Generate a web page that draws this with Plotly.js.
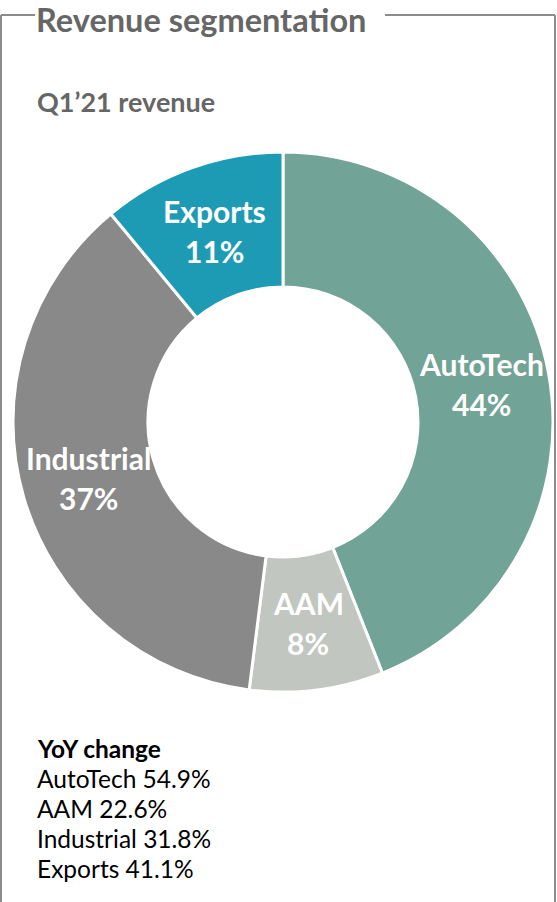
<!DOCTYPE html>
<html>
<head>
<meta charset="utf-8">
<script src="https://cdn.plot.ly/plotly-3.0.1.min.js"></script>
<style>html,body{margin:0;padding:0;background:#fff;}#chart{width:557px;height:902px;}</style>
</head>
<body>
<div id="chart"></div>
<script>
// Data
const segments = ["AutoTech", "AAM", "Industrial", "Exports"];
const shares = [44, 8, 37, 11];
const segColors = ["#72a397", "#c2c6c0", "#898989", "#1e9bb4"];
const yoySegments = ["AutoTech", "AAM", "Industrial", "Exports"];
const yoyChange = [54.9, 22.6, 31.8, 41.1];

const W = 557, H = 902;
const px = v => v / W;
const py = v => 1 - v / H;
const FONT = "Lato, 'Open Sans', sans-serif";

// pie geometry (pixels)
const CX = 283, CY = 422, R = 270, HOLE = 0.5;

const trace = {
  type: "pie",
  labels: segments,
  values: shares,
  sort: false,
  direction: "clockwise",
  rotation: 0,
  hole: HOLE,
  marker: { colors: segColors, line: { color: "#ffffff", width: 3 } },
  textinfo: "none",
  domain: { x: [px(CX - R), px(CX + R)], y: [py(CY + R), py(CY - R)] },
  showlegend: false,
  hoverinfo: "label+percent"
};

const annotations = [
  { text: "<b>Revenue segmentation</b>", x: px(35), y: py(19.5), xref: "paper", yref: "paper",
    xanchor: "left", yanchor: "middle", showarrow: false, borderpad: 0,
    font: { family: FONT, size: 32.5, color: "#666666" }, bgcolor: "#ffffff" },
  { text: "<b>Q1’21 revenue</b>", x: px(35), y: py(102), xref: "paper", yref: "paper",
    xanchor: "left", yanchor: "middle", showarrow: false,
    font: { family: FONT, size: 27, color: "#666666" } },
  { text: "<b>YoY change</b>", x: px(35), y: py(748), xref: "paper", yref: "paper",
    xanchor: "left", yanchor: "middle", showarrow: false,
    font: { family: FONT, size: 24.5, color: "#000000" } }
];
yoySegments.forEach((s, i) => {
  annotations.push({
    text: s + " " + yoyChange[i].toFixed(1) + "%",
    x: px(35), y: py(778 + 30 * i), xref: "paper", yref: "paper",
    xanchor: "left", yanchor: "middle", showarrow: false,
    font: { family: FONT, size: 24.5, color: "#000000" }
  });
});

// slice labels placed at the middle of each ring segment, derived from the shares
const total = shares.reduce((a, b) => a + b, 0);
const rMid = R * (1 + HOLE) / 2;
let cum = 0;
segments.forEach((s, i) => {
  const frac = shares[i] / total;
  const ang = (cum + frac / 2) * 2 * Math.PI; // clockwise from 12 o'clock
  cum += frac;
  const x = CX + rMid * Math.sin(ang);
  const y = CY - rMid * Math.cos(ang);
  const pct = Math.round(frac * 100) + "%";
  const f = { family: FONT, size: 30, color: "#ffffff", weight: "bold" };
  annotations.push({ text: "<b>" + s + "</b>", x: px(x), y: py(y - 20), xref: "paper", yref: "paper",
    xanchor: "center", yanchor: "middle", showarrow: false, font: f });
  annotations.push({ text: "<b>" + pct + "</b>", x: px(x), y: py(y + 20), xref: "paper", yref: "paper",
    xanchor: "center", yanchor: "middle", showarrow: false, font: f });
});

const borderLine = { color: "#8c8c8c", width: 2 };
const shapes = [
  { type: "line", xref: "paper", yref: "paper", x0: px(1), x1: px(35), y0: py(15), y1: py(15), line: borderLine },
  { type: "line", xref: "paper", yref: "paper", x0: px(385), x1: px(555), y0: py(15), y1: py(15), line: borderLine },
  { type: "line", xref: "paper", yref: "paper", x0: px(1), x1: px(1), y0: py(15), y1: py(910), line: borderLine },
  { type: "line", xref: "paper", yref: "paper", x0: px(555), x1: px(555), y0: py(15), y1: py(910), line: borderLine }
];

const layout = {
  width: W, height: H,
  margin: { l: 0, r: 0, t: 0, b: 0 },
  paper_bgcolor: "#ffffff",
  plot_bgcolor: "#ffffff",
  font: { family: FONT },
  shapes: shapes,
  annotations: annotations
};

Plotly.newPlot("chart", [trace], layout, { displayModeBar: false, staticPlot: true });
</script>
</body>
</html>
